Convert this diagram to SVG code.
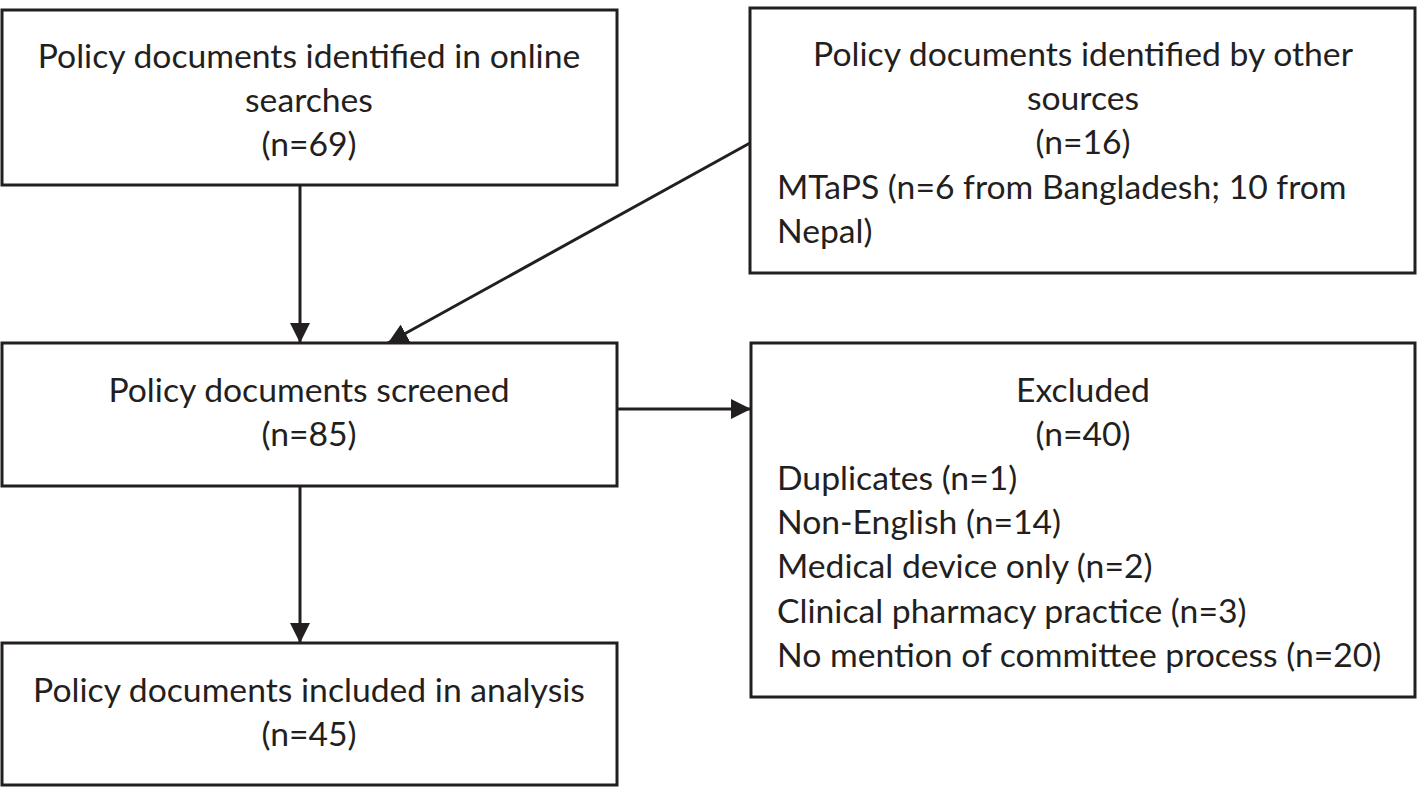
<svg xmlns="http://www.w3.org/2000/svg" width="1424" height="788" viewBox="0 0 1424 788">
<defs>
<style>
.box{fill:#fff;stroke:#231f20;stroke-width:3}
.t{font-family:Lato,"Liberation Sans",sans-serif;font-size:33.7px;fill:#231f20}
.c{text-anchor:middle}
.edge{stroke:#231f20;stroke-width:3;fill:none}
</style>
<marker id="ah" markerWidth="20" markerHeight="20" refX="20" refY="10" orient="auto" markerUnits="userSpaceOnUse">
<path d="M0,0 L20,10 L0,20 Z" fill="#231f20"/>
</marker>
</defs>
<rect width="1424" height="788" fill="#fff"/>
<g id="connectors">
<line class="edge" x1="300" y1="185" x2="300" y2="343" marker-end="url(#ah)"/>
<line class="edge" x1="750" y1="143" x2="388" y2="343" marker-end="url(#ah)"/>
<line class="edge" x1="617" y1="409" x2="751" y2="409" marker-end="url(#ah)"/>
<line class="edge" x1="300" y1="486" x2="300" y2="643" marker-end="url(#ah)"/>
</g>
<g id="online">
<rect class="box" x="2" y="10" width="615" height="175"/>
<text class="t c" x="309" y="68">Policy documents identified in online</text>
<text class="t c" x="309" y="112">searches</text>
<text class="t c" x="309" y="156">(n=69)</text>
</g>
<g id="other">
<rect class="box" x="750" y="8" width="665" height="265"/>
<text class="t c" x="1083" y="66">Policy documents identified by other</text>
<text class="t c" x="1083" y="110">sources</text>
<text class="t c" x="1083" y="154">(n=16)</text>
<text class="t" x="777" y="199">MTaPS (n=6 from Bangladesh; 10 from</text>
<text class="t" x="777" y="243">Nepal)</text>
</g>
<g id="screened">
<rect class="box" x="2" y="343" width="615" height="143"/>
<text class="t c" x="309" y="402">Policy documents screened</text>
<text class="t c" x="309" y="446">(n=85)</text>
</g>
<g id="excluded">
<rect class="box" x="751" y="343" width="664" height="354"/>
<text class="t c" x="1083" y="402">Excluded</text>
<text class="t c" x="1083" y="446">(n=40)</text>
<text class="t" x="777" y="490">Duplicates (n=1)</text>
<text class="t" x="777" y="534">Non-English (n=14)</text>
<text class="t" x="777" y="578">Medical device only (n=2)</text>
<text class="t" x="777" y="623">Clinical pharmacy practice (n=3)</text>
<text class="t" x="777" y="667">No mention of committee process (n=20)</text>
</g>
<g id="included">
<rect class="box" x="2" y="643" width="615" height="142"/>
<text class="t c" x="309" y="702">Policy documents included in analysis</text>
<text class="t c" x="309" y="746">(n=45)</text>
</g>
</svg>
